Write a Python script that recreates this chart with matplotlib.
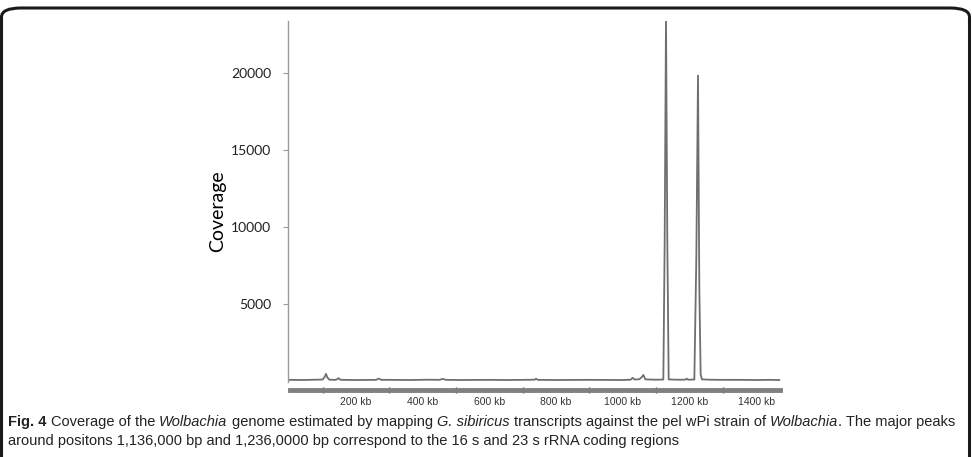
import matplotlib
matplotlib.use("Agg")
import matplotlib.pyplot as plt
from matplotlib.patches import FancyBboxPatch

# genome position (kb) and read coverage
positions = [0, 40, 80, 100, 106, 110, 114, 120, 140, 148, 152, 160, 200, 260, 268, 276,
             300, 360, 420, 450, 460, 470, 520, 600, 650, 700, 736, 740, 746, 800, 900,
             1000, 1024, 1030, 1036, 1050, 1058, 1062, 1068, 1100, 1122, 1126, 1130,
             1134, 1138, 1160, 1188, 1192, 1196, 1215, 1221, 1226, 1230, 1234, 1238,
             1260, 1300, 1350, 1400, 1440, 1470]
coverage = [60, 50, 70, 80, 250, 450, 220, 70, 60, 170, 70, 60, 50, 60, 140, 60,
            60, 50, 70, 60, 120, 60, 50, 60, 50, 60, 70, 130, 60, 50, 60,
            50, 70, 190, 80, 100, 250, 380, 90, 70, 80, 9000, 23600,
            9000, 90, 70, 70, 140, 70, 80, 8000, 19850, 6000, 400, 90,
            70, 60, 60, 50, 60, 50]

label_ticks = [200, 400, 600, 800, 1000, 1200, 1400]
label_text = ['200 kb', '400 kb', '600 kb', '800 kb', '1000 kb', '1200 kb', '1400 kb']
mark_ticks = [100, 300, 500, 700, 900, 1100, 1300]
y_ticks = [5000, 10000, 15000, 20000]

caption_line1 = [("Fig. 4", "bold"), (" Coverage of the ", "normal"), ("Wolbachia", "italic"),
                 (" genome estimated by mapping ", "normal"), ("G. sibiricus", "italic"),
                 (" transcripts against the pel wPi strain of ", "normal"), ("Wolbachia", "italic"),
                 (". The major peaks", "normal")]
caption_line2 = [("around positons 1,136,000 bp and 1,236,0000 bp correspond to the 16 s and 23 s rRNA coding regions", "normal")]

W, H = 972, 457
fig = plt.figure(figsize=(W / 100, H / 100), dpi=100)
fig.patch.set_facecolor('white')

ax = fig.add_axes([288 / W, 1 - 390 / H, 494 / W, 369 / H])
ax.plot(positions, coverage, color='#6f6f6f', linewidth=1.3, clip_on=True)
ax.set_xlim(-4, 1478)
ax.set_ylim(-600, 23400)

for s in ['top', 'right']:
    ax.spines[s].set_visible(False)
ax.spines['left'].set_color('#9a9a9a')
ax.spines['left'].set_linewidth(1)
ax.spines['left'].set_bounds(-100, 23400)
ax.spines['bottom'].set_color('#808080')
ax.spines['bottom'].set_linewidth(3.5)
ax.spines['bottom'].set_bounds(2, 1472)

ax.set_yticks(y_ticks)
ax.set_yticklabels([str(v) for v in y_ticks], family=['Lato', 'DejaVu Sans'], fontsize=10, color='#222222')
ax.tick_params(axis='y', length=3.6, width=0.8, color='#9a9a9a', pad=8.6)

ax.set_xticks(label_ticks)
ax.set_xticklabels(label_text, family=['Liberation Sans', 'DejaVu Sans'],
                   fontsize=7.5, color='#333333')
ax.tick_params(axis='x', which='major', length=0, pad=5)
ax.set_xticks(mark_ticks, minor=True)
ax.tick_params(axis='x', which='minor', length=5, width=1, color='#444444', direction='inout')

ax.set_ylabel('Coverage', family=['Lato', 'DejaVu Sans'], fontsize=14, color='black')
ax.yaxis.set_label_coords(-0.1245, 0.485)

# rounded frame around the figure
frame = FancyBboxPatch((1.5 / W, -20 / H), (W - 4) / W, (H + 12) / H,
                       boxstyle="round,pad=0,rounding_size=0.02",
                       transform=fig.transFigure, facecolor='none',
                       edgecolor='#1a1a1a', linewidth=2.2, clip_on=False)
fig.patches.append(frame)

# caption, drawn run by run
cap_family = ['Liberation Sans', 'DejaVu Sans']
cap_size = 10.5
renderer = fig.canvas.get_renderer()


def text_width(s, weight, style):
    t = fig.text(0, 0, s, family=cap_family, fontsize=cap_size, weight=weight, style=style)
    w = t.get_window_extent(renderer).width
    t.remove()
    return w


space_w = text_width("a a", "normal", "normal") - text_width("aa", "normal", "normal")


def draw_runs(runs, x, y):
    for s, kind in runs:
        weight = 'bold' if kind == 'bold' else 'normal'
        style = 'italic' if kind == 'italic' else 'normal'
        if s.startswith(' '):
            x += space_w
        core = s.strip()
        t = fig.text(x / W, 1 - y / H, core, family=cap_family, fontsize=cap_size,
                     weight=weight, style=style, va='center', ha='left', color='#222222')
        x += t.get_window_extent(renderer).width
        if s.endswith(' '):
            x += space_w


draw_runs(caption_line1, 8, 422)
draw_runs(caption_line2, 8, 441)

fig.savefig('out.png', dpi=100, facecolor='white')
